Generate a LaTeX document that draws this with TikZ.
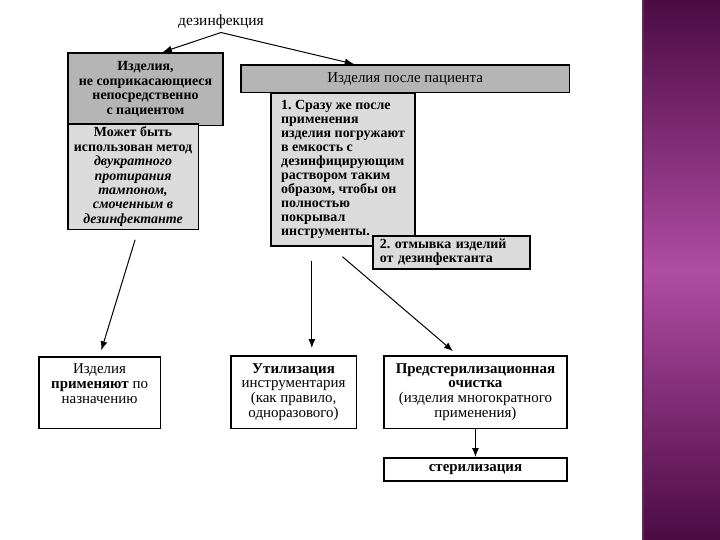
\documentclass[tikz,border=0pt]{standalone}
\usepackage{fontspec}
\setmainfont{Liberation Serif}
\usepackage{tikz}
\usetikzlibrary{calc}
\usetikzlibrary{positioning}
\usetikzlibrary{arrows.meta}
\frenchspacing

\definecolor{plumdark}{HTML}{4C0B42}
\definecolor{plumlight}{HTML}{B04CA4}

\tikzset{
  box/.style={draw, line width=1.6pt, align=center, anchor=north west, inner sep=3pt,
    font=\fontsize{15}{15}\selectfont},
  greybox/.style={box, fill=gray!58},
  paleybox/.style={box, fill=gray!28},
  arr/.style={-{Latex[length=9pt,width=7pt]}, line width=1pt}
}

\begin{document}
\begin{tikzpicture}[x=1bp, y=-1bp]
\useasboundingbox[fill=white] (0,0) rectangle (720,540);
\shade[top color=plumdark, bottom color=plumdark, middle color=plumlight] (642,0) rectangle (720,540);
\fill[plumdark!70!gray] (642,0) rectangle (644,540);

\node[font=\fontsize{15.5}{16}\selectfont] (dez) at (221,22) {дезинфекция};

\node[greybox, minimum width=156, minimum height=73, font=\fontsize{14}{14.5}\bfseries] (ltop) at (67,52)
  {Изделия,\\не соприкасающиеся\\непосредственно\\с пациентом};
\node[paleybox, minimum width=131, minimum height=105, font=\fontsize{14}{14.5}\bfseries] (lbot) at (67,123)
  {Может быть\\использован метод\\\textit{двукратного}\\\textit{протирания}\\\textit{тампоном,}\\\textit{смоченным в}\\\textit{дезинфектанте}};

\node[greybox, minimum width=330, minimum height=28, font=\fontsize{15}{15}\selectfont] (after) at (240,64) {Изделия после пациента};
\node[paleybox, minimum width=145, minimum height=154, align=left, font=\fontsize{14}{14}\bfseries] (imm) at (270,92)
  {1. Сразу же после\\применения\\изделия погружают\\в емкость с\\дезинфицирующим\\раствором таким\\образом, чтобы он\\полностью\\покрывал\\инструменты.\hspace*{24pt}};
\node[paleybox, minimum width=158, minimum height=33, inner xsep=7pt, text width=144, align=left, font=\fontsize{14}{14.5}\bfseries] (wash) at (372,235)
  {2. отмывка изделий\\от дезинфектанта};

\node[box, minimum width=122, minimum height=72] (use) at (38,356)
  {Изделия\\\textbf{применяют} по\\назначению\\[4pt]};
\node[box, minimum width=126, minimum height=73] (util) at (230,355)
  {\textbf{Утилизация}\\инструментария\\(как правило,\\одноразового)};
\node[box, minimum width=184, minimum height=73] (clean) at (383,355)
  {\textbf{Предстерилизационная}\\\textbf{очистка}\\(изделия многократного\\применения)};
\node[box, minimum width=184, minimum height=23] (ster) at (383,457) {\textbf{стерилизация}};

% arrows
\draw[arr] (dez.south) -- (ltop.65);
\draw[arr] (dez.south) -- (after.164);
\draw[arr, shorten <=10pt, shorten >=6pt] ([xshift=5pt]lbot.south) -- (use.north);
\draw[arr, shorten <=14pt, shorten >=7pt] ([xshift=42pt]imm.south west) -- ([xshift=42pt]imm.south west |- util.north);
\draw[arr, shorten <=15pt, shorten >=6pt] ([xshift=-12pt]imm.south) -- ([xshift=-18pt]clean.north);
\draw[arr] (clean) -- (ster);
\end{tikzpicture}
\end{document}
